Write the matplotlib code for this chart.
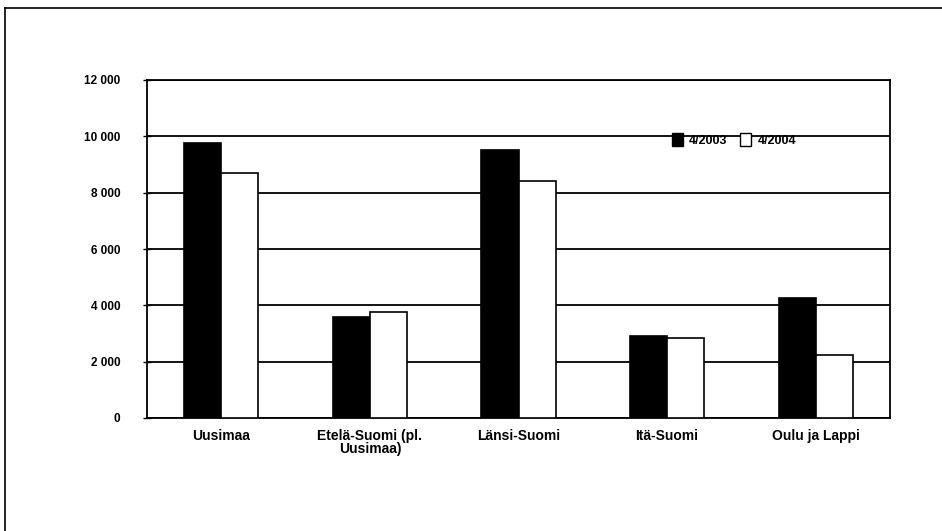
import matplotlib.pyplot as plt
import matplotlib.ticker as mticker
from matplotlib.lines import Line2D
import numpy as np

FONTS = ["Liberation Sans Narrow", "Liberation Sans", "DejaVu Sans"]
plt.rcParams["font.family"] = FONTS

# Data
categories = ["Uusimaa", "Etelä-Suomi (pl.\nUusimaa)", "Länsi-Suomi", "Itä-Suomi", "Oulu ja Lappi"]
vals_2003 = [9750, 3600, 9500, 2900, 4250]
vals_2004 = [8700, 3750, 8400, 2850, 2250]
series_names = ["4/2003", "4/2004"]

fig = plt.figure(figsize=(9.42, 5.31), dpi=100)
ax = fig.add_axes([147 / 942, 1 - 418 / 531, 743 / 942, 338 / 531])

x = np.arange(len(categories))
w = 0.25
ax.bar(x - w / 2, vals_2003, w, color="black", edgecolor="black", linewidth=1.2,
       label=series_names[0], zorder=3)
ax.bar(x + w / 2, vals_2004, w, color="white", edgecolor="black", linewidth=1.2,
       label=series_names[1], zorder=3)

ax.set_xlim(-0.5, len(categories) - 0.5)
ax.set_ylim(0, 12000)
ax.set_yticks(range(0, 12001, 2000))
ax.yaxis.set_major_formatter(mticker.FuncFormatter(lambda v, p: f"{int(v):,}".replace(",", " ")))
ax.grid(axis="y", color="black", linewidth=1.3, zorder=0)
ax.set_xticks(x)
ax.set_xticklabels(categories, fontsize=10, fontweight="bold", linespacing=0.9)
ax.tick_params(axis="x", length=0, pad=8)
ax.tick_params(axis="y", direction="inout", length=6, width=1, labelsize=8.5, pad=16)
for lbl in ax.get_yticklabels():
    lbl.set_fontweight("bold")
for s in ax.spines.values():
    s.set_linewidth(1.3)
    s.set_color("black")

handles = [
    plt.Rectangle((0, 0), 1, 1, facecolor="black", edgecolor="black"),
    plt.Rectangle((0, 0), 1, 1, facecolor="white", edgecolor="black"),
]
leg = ax.legend(handles, series_names, loc="center", bbox_to_anchor=(0.79, 0.822),
                ncol=2, frameon=False, handlelength=0.9, handleheight=1.2,
                handletextpad=0.5, columnspacing=1.0,
                prop={"family": FONTS, "size": 9, "weight": "bold"})

# outer frame (cropped at right and bottom)
fig.add_artist(Line2D([5 / 942, 1], [1 - 8 / 531, 1 - 8 / 531], color="black", linewidth=1.2,
                      transform=fig.transFigure))
fig.add_artist(Line2D([5 / 942, 5 / 942], [0, 1 - 8 / 531], color="black", linewidth=1.2,
                      transform=fig.transFigure))

fig.savefig("out.png", dpi=100, facecolor="white")
